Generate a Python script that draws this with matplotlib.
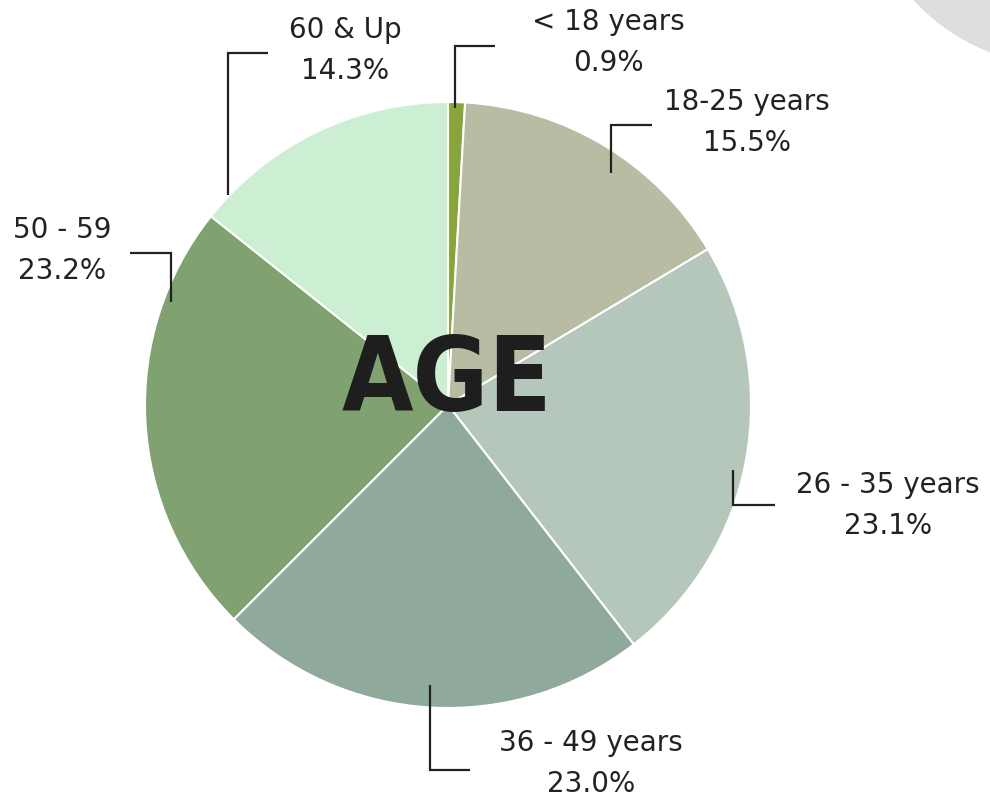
import matplotlib.pyplot as plt
from matplotlib.patches import Circle

# Age distribution (%), clockwise from 12 o'clock
age_groups = ['< 18 years', '18-25 years', '26 - 35 years', '36 - 49 years', '50 - 59', '60 & Up']
shares = [0.9, 15.5, 23.1, 23.0, 23.2, 14.3]
colors = ['#88a53c', '#b8bca2', '#b5c6ba', '#8faa9a', '#80a170', '#ccefd3']

W, H = 990, 799
fig = plt.figure(figsize=(9.9, 7.99), dpi=100)
ax = fig.add_axes([0, 0, 1, 1])

# decorative grey disc in the corner
ax.add_patch(Circle((1062, H + 135), 200, color='#dedede', zorder=0))

ax.pie(shares, colors=colors, startangle=90, counterclock=False,
       center=(448, H - 405), radius=303,
       wedgeprops=dict(edgecolor='white', linewidth=1.5), frame=True)
ax.set_xlim(0, W)
ax.set_ylim(0, H)
ax.set_aspect('equal')
ax.axis('off')

ink = '#222222'

# label text centres and elbow leader lines (pixel coords, y down)
label_pos = [(608, 22), (747, 102), (888, 485), (591, 743), (62, 230), (345, 30)]
leaders = [
    [(455, 108), (455, 46), (495, 46)],
    [(652, 125), (611, 125), (611, 173)],
    [(733, 470), (733, 505), (775, 505)],
    [(430, 685), (430, 770), (470, 770)],
    [(130, 253), (171, 253), (171, 302)],
    [(228, 195), (228, 53), (268, 53)],
]

for name, val, (px, py), pts in zip(age_groups, shares, label_pos, leaders):
    ax.text(px, H - py, name, ha='center', va='center', fontsize=20,
            family='DejaVu Sans', color=ink)
    ax.text(px, H - py - 41, f'{val:.1f}%', ha='center', va='center', fontsize=20,
            family='DejaVu Sans', color=ink)
    ax.plot([p[0] for p in pts], [H - p[1] for p in pts], color=ink, lw=1.6,
            solid_capstyle='butt', solid_joinstyle='miter')

ax.text(447, H - 382, 'AGE', ha='center', va='center', fontsize=74,
        fontweight='heavy', fontstretch='condensed', family='DejaVu Sans',
        color='#1e1e1e')

fig.savefig('out.png', dpi=100)
